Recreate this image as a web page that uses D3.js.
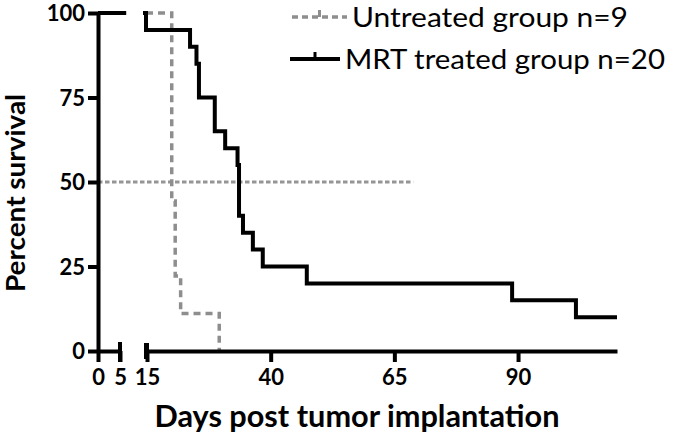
<!DOCTYPE html>
<html>
<head>
<meta charset="utf-8">
<script src="https://cdn.jsdelivr.net/npm/d3@7"></script>
<style>
  html, body { margin: 0; padding: 0; background: #fff; }
  svg { display: block; }
  text { font-family: Lato, "Open Sans", sans-serif; }
</style>
</head>
<body>
<svg id="chart" width="680" height="445"></svg>
<script>
// ---- data ----
const seriesNames = ["Untreated group n=9", "MRT treated group n=20"];
const untreatedDays = [0, 20.0, 20.7, 21.8, 29.6];
const untreatedSurv = [100, 44.4, 22.2, 11.1, 0];
const mrtDays = [0, 14.8, 23.7, 25.0, 25.5, 28.7, 30.8, 33.3, 33.6, 34.4, 36.4, 38.4, 47.3, 88.8, 101.7, 110];
const mrtSurv = [100, 95, 90, 85, 75, 65, 60, 55, 40, 35, 30, 25, 20, 15, 10, 10];
const medianLineDays = [0, 68.8];
const medianLineSurv = [50, 50];
const xTicksLeft = [0, 5];
const xTicksRight = [15, 40, 65, 90];
const yTicks = [0, 25, 50, 75, 100];
const xTitle = "Days post tumor implantation";
const yTitle = "Percent survival";

// ---- scales ----
const svg = d3.select("#chart");
const y = d3.scaleLinear().domain([0, 100]).range([351, 13]);
const xa = d3.scaleLinear().domain([0, 5]).range([98, 120]);
const xb = d3.scaleLinear().domain([15, 110]).range([147, 617]);
const x = d => (d <= 10 ? xa(d) : xb(d));
const fmt = d3.format("d");

// clip regions for the axis break
const defs = svg.append("defs");
defs.append("clipPath").attr("id", "clipA").append("rect")
  .attr("x", 0).attr("y", 0).attr("width", xa(6.4)).attr("height", 445);
defs.append("clipPath").attr("id", "clipB").append("rect")
  .attr("x", xb(14.2)).attr("y", 0).attr("width", 680 - xb(14.2)).attr("height", 445);

const line = d3.line().x(d => x(d[0])).y(d => y(d[1])).curve(d3.curveStepAfter);
const lineStraight = d3.line().x(d => x(d[0])).y(d => y(d[1]));

// ---- 50% reference line ----
svg.append("path")
  .attr("d", lineStraight(d3.zip(medianLineDays, medianLineSurv)))
  .attr("fill", "none").attr("stroke", "#959595")
  .attr("stroke-width", 3).attr("stroke-dasharray", "4.5,2.5");

// ---- curves ----
function drawCurve(days, surv, style) {
  ["clipA", "clipB"].forEach(c => {
    svg.append("path")
      .attr("clip-path", `url(#${c})`)
      .attr("d", line(d3.zip(days, surv)))
      .attr("fill", "none")
      .attr("stroke", style.color)
      .attr("stroke-width", style.width)
      .attr("stroke-dasharray", style.dash || null);
  });
}
drawCurve(untreatedDays, untreatedSurv, { color: "#8e8e8e", width: 3.5, dash: "7,5" });
drawCurve(mrtDays, mrtSurv, { color: "#000", width: 4 });

// ---- axes ----
const yAxis = svg.append("g").attr("transform", "translate(98,0)")
  .call(d3.axisLeft(y).tickValues(yTicks).tickFormat(fmt).tickSize(10).tickSizeOuter(0).tickPadding(3));
const xAxisA = svg.append("g").attr("transform", "translate(0,351)")
  .call(d3.axisBottom(xa).tickValues(xTicksLeft).tickFormat(fmt).tickSize(11).tickSizeOuter(0).tickPadding(6));
const xAxisB = svg.append("g").attr("transform", "translate(0,351)")
  .call(d3.axisBottom(xb).tickValues(xTicksRight).tickFormat(fmt).tickSize(11).tickSizeOuter(0).tickPadding(6));

[yAxis, xAxisA, xAxisB].forEach(g => {
  g.select(".domain").attr("stroke", "#000").attr("stroke-width", 4);
  g.selectAll(".tick line").attr("stroke", "#000").attr("stroke-width", 4);
  g.selectAll(".tick text")
    .attr("fill", "#000").style("font-size", "22px").style("font-weight", "bold")
    .style("font-family", "Lato, sans-serif");
});
yAxis.selectAll(".tick text").attr("dy", "0.36em");
xAxisA.selectAll(".tick text").attr("dy", "0.75em");
xAxisB.selectAll(".tick text").attr("dy", "0.75em");

// break marks
svg.append("line").attr("x1", xa(5)).attr("x2", xa(5))
  .attr("y1", 342).attr("y2", 362).attr("stroke", "#000").attr("stroke-width", 4);
svg.append("line").attr("x1", xb(15) - 0.5).attr("x2", xb(15) - 0.5)
  .attr("y1", 343).attr("y2", 359).attr("stroke", "#000").attr("stroke-width", 5);

// ---- titles ----
svg.append("text")
  .attr("x", 357).attr("y", 427).attr("text-anchor", "middle")
  .attr("textLength", 405).attr("lengthAdjust", "spacingAndGlyphs")
  .style("font-size", "30px").style("font-weight", "bold")
  .text(xTitle);
svg.append("text")
  .attr("transform", "translate(25,193) rotate(-90)")
  .attr("text-anchor", "middle")
  .attr("textLength", 198).attr("lengthAdjust", "spacingAndGlyphs")
  .style("font-size", "26px").style("font-weight", "bold")
  .text(yTitle);

// ---- legend ----
const legend = svg.append("g");
const legendRows = [
  { name: seriesNames[0], ly: 17, x1: 292, x2: 347, color: "#8e8e8e", dash: "6,4", width: 3.5, tx: 352, tlen: 276 },
  { name: seriesNames[1], ly: 59, x1: 290, x2: 340, color: "#000", dash: null, width: 4, tx: 345, tlen: 320 }
];
legendRows.forEach(r => {
  legend.append("line").attr("x1", r.x1).attr("x2", r.x2).attr("y1", r.ly).attr("y2", r.ly)
    .attr("stroke", r.color).attr("stroke-width", r.width).attr("stroke-dasharray", r.dash);
  legend.append("line").attr("x1", (r.x1 + r.x2) / 2).attr("x2", (r.x1 + r.x2) / 2)
    .attr("y1", r.ly - 7).attr("y2", r.ly).attr("stroke", r.color).attr("stroke-width", 3);
  legend.append("text").attr("x", r.tx).attr("y", r.ly + 10)
    .attr("textLength", r.tlen).attr("lengthAdjust", "spacingAndGlyphs")
    .style("font-size", "27px").attr("fill", "#000")
    .text(r.name);
});
</script>
</body>
</html>
